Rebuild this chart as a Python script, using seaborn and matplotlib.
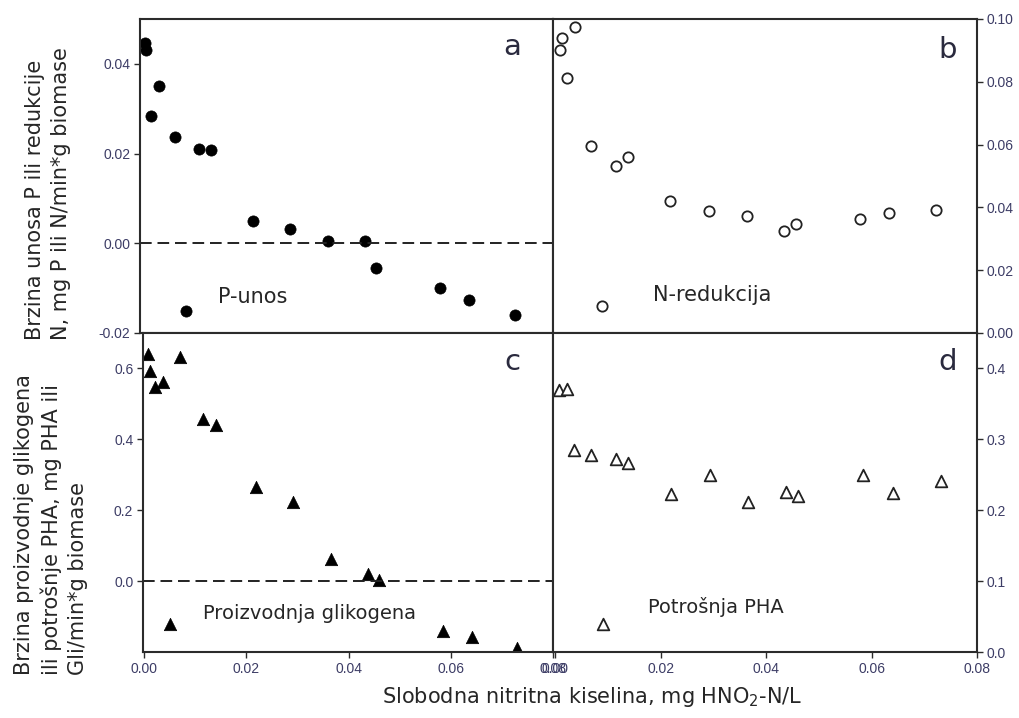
import numpy as np
import pandas as pd
import matplotlib
matplotlib.use('Agg')
import matplotlib.pyplot as plt
import seaborn as sns

# P-unos (panel a)
x_a = [0.0001, 0.0003, 0.0014, 0.0029, 0.0061, 0.0082, 0.0108, 0.0131,
       0.0213, 0.0286, 0.0360, 0.0432, 0.0454, 0.0579, 0.0635, 0.0726]
y_a = [0.0446, 0.0431, 0.0284, 0.0351, 0.0238, -0.0150, 0.0210, 0.0207,
       0.0050, 0.0032, 0.0004, 0.0004, -0.0054, -0.0100, -0.0127, -0.0160]

# N-redukcija (panel b)
x_b = [0.0009, 0.0013, 0.0023, 0.0038, 0.0069, 0.0088, 0.0115, 0.0139,
       0.0218, 0.0291, 0.0363, 0.0434, 0.0456, 0.0578, 0.0633, 0.0722]
y_b = [0.0901, 0.0940, 0.0813, 0.0975, 0.0596, 0.0087, 0.0533, 0.0561,
       0.0421, 0.0388, 0.0373, 0.0324, 0.0346, 0.0363, 0.0383, 0.0393]

# Proizvodnja glikogena (panel c)
x_c = [0.0008, 0.0012, 0.0022, 0.0038, 0.0051, 0.0070, 0.0116, 0.0140,
       0.0219, 0.0292, 0.0365, 0.0439, 0.0460, 0.0584, 0.0641, 0.0730]
y_c = [0.641, 0.594, 0.547, 0.563, -0.121, 0.633, 0.456, 0.440,
       0.266, 0.224, 0.061, 0.020, 0.002, -0.140, -0.158, -0.190]

# Potrosnja PHA (panel d)
x_d = [0.0008, 0.0022, 0.0035, 0.0069, 0.0090, 0.0115, 0.0139, 0.0219,
       0.0293, 0.0366, 0.0437, 0.0460, 0.0584, 0.0641, 0.0731]
y_d = [0.370, 0.371, 0.285, 0.278, 0.040, 0.272, 0.267, 0.223,
       0.250, 0.211, 0.226, 0.220, 0.250, 0.225, 0.241]

x_ticks = [0.00, 0.02, 0.04, 0.06, 0.08]
x_ticklabels = ['0.00', '0.02', '0.04', '0.06', '0.08']

sns.set_style('ticks')
plt.rcParams['font.family'] = ['DejaVu Sans']

W, H = 1020, 718
fig = plt.figure(figsize=(W / 100, H / 100), dpi=100)


def px_axes(left, top, right, bottom):
    return fig.add_axes([left / W, (H - bottom) / H, (right - left) / W, (bottom - top) / H])


ax_a = px_axes(140, 19, 553, 333)
ax_b = px_axes(553, 19, 977, 333)
ax_c = px_axes(143, 333, 553, 652)
ax_d = px_axes(553, 333, 977, 652)

spine_col = '#2b2b2b'
tick_col = '#3d3d66'

sns.scatterplot(x=x_a, y=y_a, ax=ax_a, marker='o', s=65, color='black',
                edgecolor='black', linewidth=0.5)
sns.scatterplot(x=x_b, y=y_b, ax=ax_b, marker='o', s=55, facecolor='white',
                edgecolor='#222222', linewidth=1.3)
sns.scatterplot(x=x_c, y=y_c, ax=ax_c, marker='^', s=80, color='black',
                edgecolor='black', linewidth=0.5)
sns.scatterplot(x=x_d, y=y_d, ax=ax_d, marker='^', s=70, facecolor='white',
                edgecolor='#222222', linewidth=1.3)

ax_a.axhline(0, color='#222222', lw=1.4, ls=(0, (6, 3)), zorder=1)
ax_c.axhline(0, color='#222222', lw=1.4, ls=(0, (6, 3)), zorder=1)

ax_a.set_xlim(-0.0008, 0.08)
ax_c.set_xlim(-0.0002, 0.08)
ax_b.set_xlim(-0.0004, 0.08)
ax_d.set_xlim(-0.0004, 0.08)
ax_a.set_ylim(-0.02, 0.05)
ax_b.set_ylim(0, 0.10)
ax_c.set_ylim(-0.2, 0.7)
ax_d.set_ylim(0, 0.45)

ax_a.set_yticks([-0.02, 0.00, 0.02, 0.04])
ax_a.set_yticklabels(['-0.02', '0.00', '0.02', '0.04'])
ax_b.set_yticks([0.00, 0.02, 0.04, 0.06, 0.08, 0.10])
ax_b.set_yticklabels(['0.00', '0.02', '0.04', '0.06', '0.08', '0.10'])
ax_c.set_yticks([0.0, 0.2, 0.4, 0.6])
ax_c.set_yticklabels(['0.0', '0.2', '0.4', '0.6'])
ax_d.set_yticks([0.0, 0.1, 0.2, 0.3, 0.4])
ax_d.set_yticklabels(['0.0', '0.1', '0.2', '0.3', '0.4'])

for ax in (ax_a, ax_b):
    ax.set_xticks([])
for ax in (ax_c, ax_d):
    ax.set_xticks(x_ticks)
    ax.set_xticklabels(x_ticklabels)

for ax in (ax_b, ax_d):
    ax.yaxis.tick_right()

for ax in (ax_a, ax_b, ax_c, ax_d):
    for sp in ax.spines.values():
        sp.set_visible(True)
        sp.set_color(spine_col)
        sp.set_linewidth(1.5)
    ax.tick_params(direction='out', length=4, width=1, color=spine_col,
                   labelcolor=tick_col, pad=3)
    for lab in ax.get_xticklabels() + ax.get_yticklabels():
        lab.set_fontfamily('Liberation Sans')
        lab.set_fontsize(10)
    ax.set_xlabel('')
    ax.set_ylabel('')

letter_col = '#2a2a3e'
ax_a.text(0.90, 0.91, 'a', transform=ax_a.transAxes, fontsize=21, color=letter_col, ha='center', va='center')
ax_b.text(0.93, 0.90, 'b', transform=ax_b.transAxes, fontsize=21, color=letter_col, ha='center', va='center')
ax_c.text(0.90, 0.91, 'c', transform=ax_c.transAxes, fontsize=21, color=letter_col, ha='center', va='center')
ax_d.text(0.93, 0.91, 'd', transform=ax_d.transAxes, fontsize=21, color=letter_col, ha='center', va='center')

ax_a.text(0.19, 0.115, 'P-unos', transform=ax_a.transAxes, fontsize=15, ha='left', va='center')
ax_b.text(0.235, 0.12, 'N-redukcija', transform=ax_b.transAxes, fontsize=15, ha='left', va='center')
ax_c.text(0.147, 0.12, 'Proizvodnja glikogena', transform=ax_c.transAxes, fontsize=14, ha='left', va='center')
ax_d.text(0.225, 0.14, 'Potrošnja PHA', transform=ax_d.transAxes, fontsize=14, ha='left', va='center')

fig.text(48 / W, (H - 340) / H, 'Brzina unosa P ili redukcije\nN, mg P ili N/min*g biomase',
         rotation=90, ha='left', va='center', rotation_mode='anchor', fontsize=15,
         linespacing=1.35, multialignment='left')
fig.text(51 / W, (H - 675) / H, 'Brzina proizvodnje glikogena\nili potrošnje PHA, mg PHA ili\nGli/min*g biomase',
         rotation=90, ha='left', va='center', rotation_mode='anchor', fontsize=15,
         linespacing=1.35, multialignment='left')
fig.text(592 / W, (H - 697) / H, 'Slobodna nitritna kiselina, mg HNO$_2$-N/L',
         ha='center', va='center', fontsize=15)

fig.savefig('out.png', dpi=100)
